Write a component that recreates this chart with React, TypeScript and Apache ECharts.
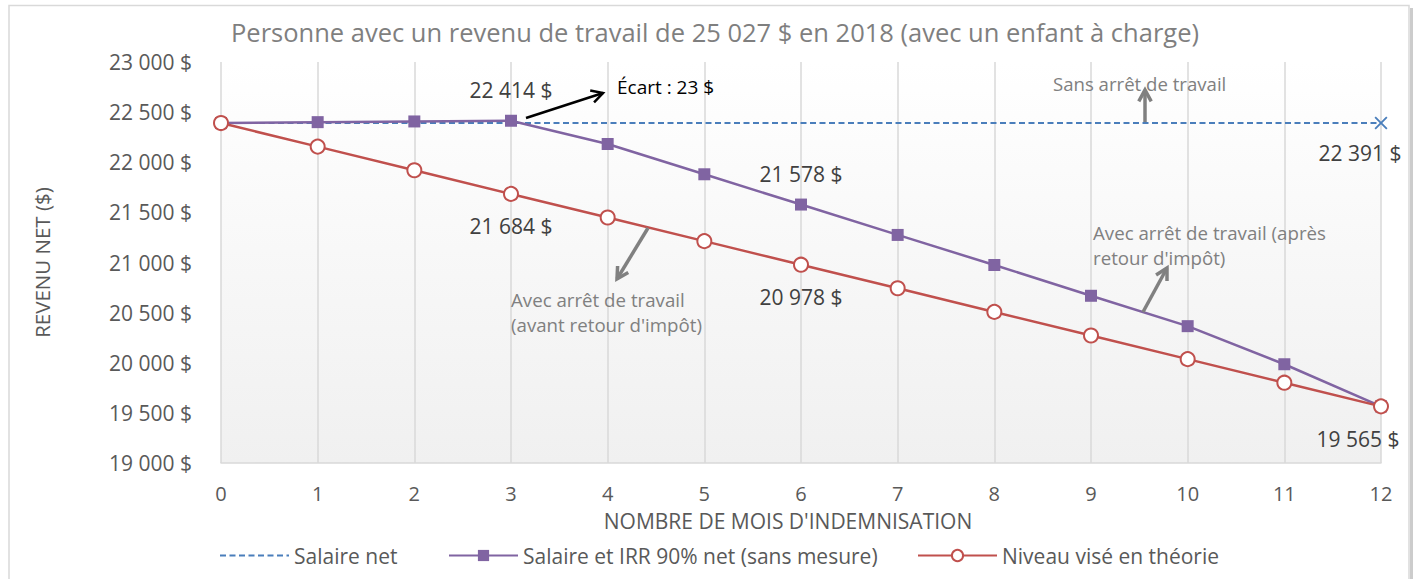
import React, { useEffect, useRef } from "react";
import * as echarts from "echarts";

const months = ["0", "1", "2", "3", "4", "5", "6", "7", "8", "9", "10", "11", "12"];
const salaireNet = [22391, 22391, 22391, 22391, 22391, 22391, 22391, 22391, 22391, 22391, 22391, 22391, 22391];
const salaireIrr = [22391, 22400, 22407, 22414, 22182, 21880, 21578, 21275, 20975, 20668, 20365, 19985, 19565];
const niveauVise = [22391, 22156, 21920, 21684, 21449, 21213, 20978, 20743, 20507, 20272, 20036, 19801, 19565];
const yTicks = { min: 19000, max: 23000, interval: 500 };

const FONT = "Open Sans";
const fmt = (v: number) => String(Math.round(v)).replace(/\B(?=(\d{3})+(?!\d))/g, " ") + " $";

const X_PATH = "path://M0,1L1,0L5,4L9,0L10,1L6,5L10,9L9,10L5,6L1,10L0,9L4,5Z";

function arrow(x1: number, y1: number, x2: number, y2: number, color: string, w: number) {
  const a = Math.atan2(y2 - y1, x2 - x1);
  const L = 13;
  const s = 0.5;
  const p1 = [x2 - L * Math.cos(a - s), y2 - L * Math.sin(a - s)];
  const p2 = [x2 - L * Math.cos(a + s), y2 - L * Math.sin(a + s)];
  return [
    { type: "line", shape: { x1, y1, x2, y2 }, style: { stroke: color, lineWidth: w }, z: 100 },
    { type: "polyline", shape: { points: [p1, [x2, y2], p2] }, style: { stroke: color, lineWidth: w, fill: null }, z: 100 },
  ];
}

function annot(text: string, x: number, y: number, color: string, size = 18) {
  return {
    type: "text",
    x,
    y,
    z: 100,
    style: { text, fill: color, font: `${size}px "${FONT}"`, textVerticalAlign: "middle", textAlign: "left" },
  };
}

export default function App() {
  const ref = useRef<HTMLDivElement>(null);
  useEffect(() => {
    if (!ref.current) return;
    const chart = echarts.init(ref.current, null, { renderer: "svg" });
    const labelStyle = { show: true, color: "#404040", fontSize: 21, fontFamily: FONT, formatter: (p: any) => fmt(p.value) };

    const netData = salaireNet.map((v, i) =>
      i === salaireNet.length - 1
        ? { value: v, symbol: X_PATH, symbolSize: 13, label: { ...labelStyle, position: "bottom", distance: 13, offset: [-21, 0] } }
        : { value: v, symbol: "none" }
    );
    const irrData = salaireIrr.map((v, i) =>
      i === 3 || i === 6 ? { value: v, label: { ...labelStyle, position: "top", distance: 14 } } : { value: v }
    );
    const viseData = niveauVise.map((v, i) => {
      if (i === 3 || i === 6) return { value: v, label: { ...labelStyle, position: "bottom", distance: 14 } };
      if (i === 12) return { value: v, label: { ...labelStyle, position: "bottom", distance: 14, offset: [-23, 0] } };
      return { value: v };
    });

    const legendBase = {
      bottom: 8,
      itemWidth: 69,
      itemHeight: 14,
      itemGap: 7,
      textStyle: { color: "#595959", fontSize: 21, fontFamily: FONT },
    };

    chart.setOption({
      animation: false,
      backgroundColor: "#ffffff",
      textStyle: { fontFamily: FONT },
      title: {
        text: "Personne avec un revenu de travail de 25 027 $ en 2018 (avec un enfant à charge)",
        left: 710,
        textAlign: "center",
        top: 14,
        textStyle: { color: "#7f7f7f", fontSize: 25.5, fontWeight: "normal", fontFamily: FONT },
      },
      grid: {
        left: 221,
        right: 35,
        top: 62,
        bottom: 116,
        show: true,
        borderWidth: 0,
        backgroundColor: new echarts.graphic.LinearGradient(0, 0, 0, 1, [
          { offset: 0, color: "#ffffff" },
          { offset: 1, color: "#f0f0f0" },
        ]),
      },
      legend: [
        { ...legendBase, left: 214, data: [{ name: "Salaire net", itemStyle: { opacity: 0 } }] },
        { ...legendBase, left: 443, data: ["Salaire et IRR 90% net (sans mesure)"] },
        { ...legendBase, left: 912, itemWidth: 79, data: ["Niveau visé en théorie"] },
      ],
      xAxis: {
        type: "category",
        data: months,
        boundaryGap: false,
        name: "NOMBRE DE MOIS D'INDEMNISATION",
        nameLocation: "middle",
        nameGap: 47,
        nameTextStyle: { color: "#595959", fontSize: 21, fontFamily: FONT, padding: [0, 26, 0, 0] },
        axisLine: { lineStyle: { color: "#d9d9d9", width: 1.5 } },
        axisTick: { show: false },
        axisLabel: { color: "#595959", fontSize: 20, margin: 20, fontFamily: FONT },
        splitLine: { show: true, lineStyle: { color: "#d9d9d9", width: 1.5 } },
      },
      yAxis: {
        type: "value",
        min: yTicks.min,
        max: yTicks.max,
        interval: yTicks.interval,
        name: "REVENU NET ($)",
        nameLocation: "middle",
        nameGap: 169,
        nameTextStyle: { color: "#595959", fontSize: 20.5, fontFamily: FONT },
        axisLine: { show: false },
        axisTick: { show: false },
        splitLine: { show: false },
        axisLabel: { color: "#595959", fontSize: 21, margin: 29, fontFamily: FONT, formatter: (v: number) => fmt(v) },
      },
      series: [
        {
          name: "Salaire net",
          type: "line",
          data: netData,
          symbol: "none",
          showSymbol: true,
          color: "#4a7ebb",
          lineStyle: { color: "#4a7ebb", width: 2, type: [6, 3.5] },
          itemStyle: { color: "#4a7ebb" },
          z: 2,
        },
        {
          name: "Salaire et IRR 90% net (sans mesure)",
          type: "line",
          data: irrData,
          symbol: "rect",
          symbolSize: 12,
          color: "#8064a2",
          lineStyle: { color: "#8064a2", width: 2.5 },
          itemStyle: { color: "#8064a2" },
          z: 3,
        },
        {
          name: "Niveau visé en théorie",
          type: "line",
          data: viseData,
          symbol: "circle",
          symbolSize: 14,
          color: "#c0504d",
          lineStyle: { color: "#c0504d", width: 2.5 },
          itemStyle: { color: "#ffffff", borderColor: "#c0504d", borderWidth: 2 },
          z: 4,
        },
      ],
      graphic: [
        { type: "rect", shape: { x: 9, y: 5.5, width: 1400, height: 620 }, style: { stroke: "#d9d9d9", lineWidth: 1.5, fill: null }, z: 0, silent: true },
        { type: "line", shape: { x1: 1411.5, y1: 8, x2: 1411.5, y2: 579 }, style: { stroke: "#cccccc", lineWidth: 3 }, z: 0 },
        annot("Écart : 23 $", 617, 87, "#000000", 19),
        annot("Sans arrêt de travail", 1053, 83, "#808080", 18.6),
        annot("Avec arrêt de travail (après", 1093, 232, "#808080", 18.7),
        annot("retour d'impôt)", 1093, 257, "#808080", 18.7),
        annot("Avec arrêt de travail", 511, 299, "#808080", 18.7),
        annot("(avant retour d'impôt)", 511, 324, "#808080", 18.7),
        ...arrow(526, 118, 603, 93, "#000000", 2.5),
        ...arrow(1145, 122, 1145, 90, "#808080", 3.5),
        ...arrow(1143, 312, 1167, 268, "#808080", 3.5),
        ...arrow(648, 228, 617, 279, "#808080", 3.5),
      ],
    });
    return () => chart.dispose();
  }, []);
  return <div ref={ref} style={{ position: "fixed", left: 0, top: 0, width: 1416, height: 579 }} />;
}
